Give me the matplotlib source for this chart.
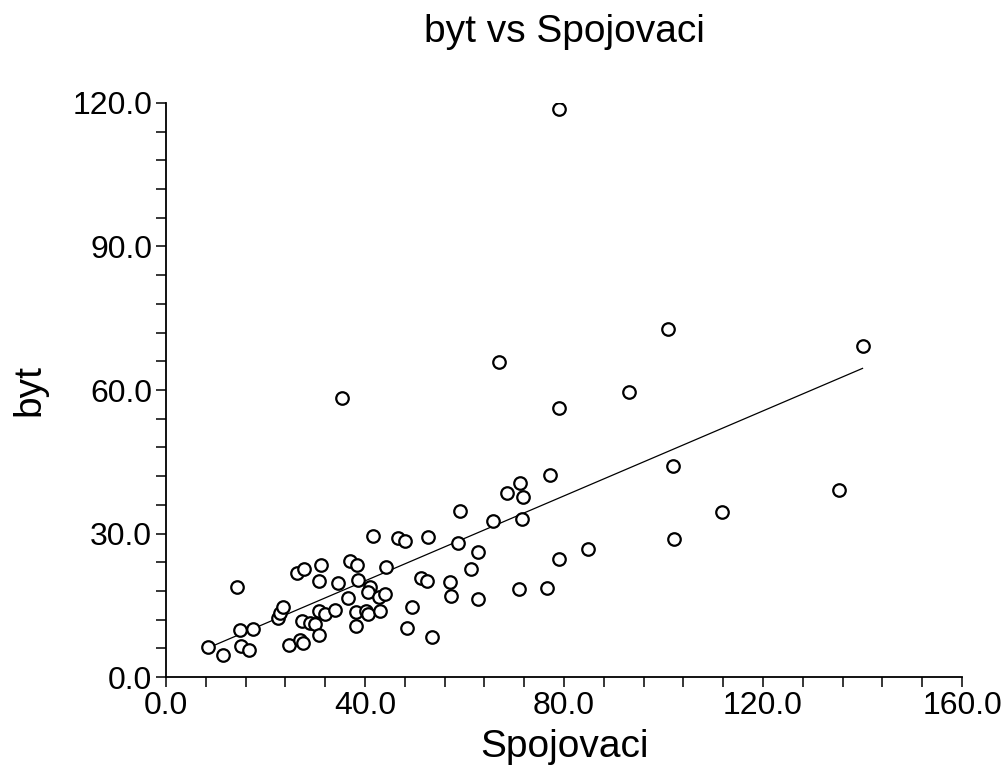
import numpy as np
import matplotlib.pyplot as plt
from matplotlib.ticker import MultipleLocator, FormatStrFormatter

plt.rcParams['font.family'] = ['Liberation Sans', 'DejaVu Sans']

# values
spojovaci = [8.5, 11.5, 14.3, 14.9, 15.1, 16.7, 17.4, 22.6, 22.9, 23.5,
             24.8, 26.9, 27.5, 26.4, 27.7, 31.2, 30.7, 27.4, 28.9, 30.0,
             30.8, 30.8, 32.0, 34.0, 34.6, 36.6, 37.0, 38.3, 38.5, 38.2,
             38.2, 59.0, 65.8, 71.5, 41.6, 46.7, 48.1, 52.7, 58.6, 62.7,
             44.2, 61.3, 51.2, 52.5, 57.1, 71.0, 41.0, 40.5, 42.9, 44.0,
             57.3, 62.8, 49.5, 40.2, 40.5, 43.0, 48.4, 53.4, 66.9, 100.8,
             93.1, 79.0, 101.9, 77.2, 71.2, 68.5, 71.7, 102.1, 84.9, 79.0,
             76.5, 140.0, 135.2, 111.7, 78.9, 35.4]
byt = [6.2, 4.6, 18.8, 9.8, 6.5, 5.7, 10.1, 12.3, 13.4, 14.6,
       6.7, 7.7, 7.2, 21.8, 22.6, 23.4, 20.0, 11.7, 11.2, 11.1,
       8.7, 13.9, 13.2, 14.0, 19.7, 16.5, 24.2, 23.4, 20.3, 13.7,
       10.7, 34.8, 32.7, 33.0, 29.5, 29.0, 28.4, 29.2, 28.1, 26.2,
       22.9, 22.6, 20.8, 20.1, 19.9, 18.5, 18.8, 17.8, 16.8, 17.4,
       17.0, 16.3, 14.6, 13.9, 13.2, 13.8, 10.2, 8.4, 65.9, 72.7,
       59.6, 56.2, 44.2, 42.2, 40.6, 38.4, 37.7, 28.8, 26.8, 24.7,
       18.7, 69.1, 39.2, 34.4, 118.8, 58.4]

x = np.array(spojovaci)
y = np.array(byt)
slope, intercept = np.polyfit(x, y, 1)
xs = np.array([x.min(), x.max()])

fig = plt.figure(figsize=(10.02, 7.72), dpi=100)
ax = fig.add_axes([0.1657, 0.123, 0.7944, 0.7436])

ax.plot(x, y, 'o', markersize=9, markerfacecolor='white',
        markeredgecolor='black', markeredgewidth=1.6, zorder=3)
ax.plot(xs, intercept + slope * xs, color='black', linewidth=0.9, zorder=2)

ax.set_xlim(0, 160)
ax.set_ylim(0, 120)
ax.spines['top'].set_visible(False)
ax.spines['right'].set_visible(False)
ax.spines['left'].set_linewidth(1.3)
ax.spines['bottom'].set_linewidth(1.3)

ax.xaxis.set_major_locator(MultipleLocator(40))
ax.xaxis.set_minor_locator(MultipleLocator(8))
ax.yaxis.set_major_locator(MultipleLocator(30))
ax.yaxis.set_minor_locator(MultipleLocator(6))
ax.xaxis.set_major_formatter(FormatStrFormatter('%.1f'))
ax.yaxis.set_major_formatter(FormatStrFormatter('%.1f'))
ax.tick_params(which='both', direction='out', length=7, width=1.1)
ax.tick_params(which='major', labelsize=23, pad=3)

ax.set_xlabel('Spojovaci', fontsize=28, labelpad=6)
ax.set_ylabel('byt', fontsize=28, labelpad=18)
ax.set_title('byt vs Spojovaci', fontsize=28, pad=44)

fig.savefig('out.png', dpi=100, facecolor='white')
